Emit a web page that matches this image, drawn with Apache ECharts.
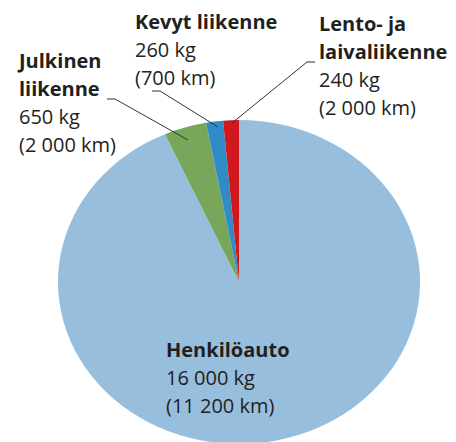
<!DOCTYPE html>
<html>
<head>
<meta charset="utf-8">
<script src="https://cdn.jsdelivr.net/npm/echarts@6/dist/echarts.min.js"></script>
<style>
  html, body { margin: 0; padding: 0; background: #fff; overflow: hidden; }
  #wrap { position: relative; width: 456px; height: 442px; overflow: hidden; }
  /* the pie in the picture is a bit flattened, so squash the pie layer only */
  #pie { position: absolute; left: 0; top: 0; width: 456px; height: 480px;
         transform: scaleY(0.895); transform-origin: 239px 282px; }
  #labels { position: absolute; left: 0; top: 0; width: 456px; height: 442px; }
</style>
</head>
<body>
<div id="wrap">
  <div id="pie"></div>
  <div id="labels"></div>
</div>
<script>
// data
const categories = ['Henkilöauto', 'Julkinen liikenne', 'Kevyt liikenne', 'Lento- ja laivaliikenne'];
const emissionKg = [16000, 650, 260, 240];
const distanceKm = [11200, 2000, 700, 2000];
const sliceColors = ['#97bedd', '#78a65b', '#2f8cc7', '#d0181f'];

// label layout: where each title breaks, top-left corner, leader line
const titleLines = [['Henkilöauto'], ['Julkinen', 'liikenne'], ['Kevyt liikenne'], ['Lento- ja', 'laivaliikenne']];
const labelPos = [[166, 335], [19, 46], [135, 7], [319, 9]];
const leaderLines = [
  null,
  [[107, 99], [115, 99], [188, 140]],
  [[152, 91], [160, 91], [218, 127]],
  [[315, 62], [307, 62], [232, 123]]
];

const fmt = n => String(n).replace(/\B(?=(\d{3})+(?!\d))/g, ' ');

// pie
const pieChart = echarts.init(document.getElementById('pie'), null, { renderer: 'svg' });
pieChart.setOption({
  animation: false,
  series: [{
    type: 'pie',
    center: [239, 282],
    radius: 181,
    startAngle: 90,
    clockwise: true,
    silent: true,
    label: { show: false },
    labelLine: { show: false },
    data: categories.map((c, i) => ({
      name: c,
      value: emissionKg[i],
      itemStyle: { color: sliceColors[i] }
    }))
  }]
});

// labels + leader lines
const textColor = '#231f20';
const graphics = [];
categories.forEach((c, i) => {
  const parts = titleLines[i].map(t => '{b|' + t + '}');
  parts.push('{n|' + fmt(emissionKg[i]) + ' kg}');
  parts.push('{n|(' + fmt(distanceKm[i]) + ' km)}');
  graphics.push({
    type: 'text',
    x: labelPos[i][0],
    y: labelPos[i][1],
    style: {
      text: parts.join('\n'),
      verticalAlign: 'top',
      rich: {
        b: { fontFamily: 'Open Sans', fontSize: 20, fontWeight: 'bold', fill: textColor, lineHeight: 28 },
        n: { fontFamily: 'Open Sans', fontSize: 20, fill: textColor, lineHeight: 28 }
      }
    }
  });
  if (leaderLines[i]) {
    graphics.push({
      type: 'polyline',
      shape: { points: leaderLines[i] },
      style: { stroke: '#333', lineWidth: 1, fill: null }
    });
  }
});

const labelChart = echarts.init(document.getElementById('labels'), null, { renderer: 'svg' });
labelChart.setOption({ animation: false, graphic: graphics });
</script>
</body>
</html>
